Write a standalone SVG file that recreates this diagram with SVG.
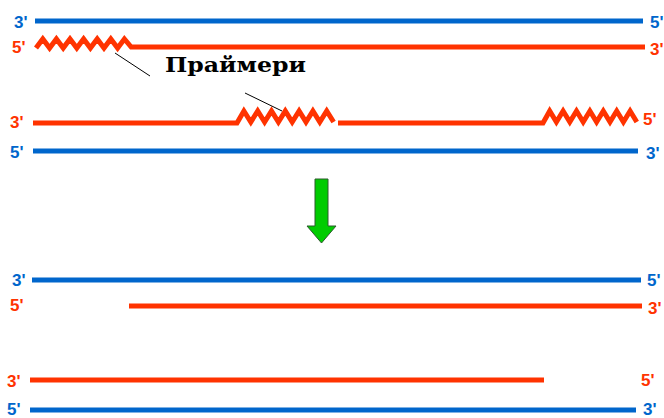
<svg xmlns="http://www.w3.org/2000/svg" width="664" height="418" viewBox="0 0 664 418">
<style>
.b{stroke:#0066cc;stroke-width:5;fill:none}
.r{stroke:#ff3300;stroke-width:5;fill:none;stroke-linejoin:miter}
.lb{font-family:"Liberation Sans",Arial,sans-serif;font-weight:bold;font-size:17px;fill:#0066cc}
.lr{font-family:"Liberation Sans",Arial,sans-serif;font-weight:bold;font-size:17px;fill:#ff3300}
.ptr{stroke:#000;stroke-width:1;fill:none}
</style>
<rect width="664" height="418" fill="#fff"/>
<g id="strand-top-blue">
<line class="b" x1="35" y1="21" x2="643" y2="21"/>
<text class="lb" x="14" y="28">3'</text>
<text class="lb" x="650" y="28">5'</text>
</g>
<g id="strand-top-red">
<path class="r" d="M36,48 L42.8,39 L49.6,48 L56.4,39 L63.2,48 L70,39 L76.8,48 L83.6,39 L90.4,48 L97.2,39 L104,48 L110.8,39 L117.6,48 L124.4,39 L131.2,47 H645"/>
<text class="lr" x="12" y="53">5'</text>
<text class="lr" x="650" y="55">3'</text>
</g>
<g id="label-primers">
<text x="165" y="72" font-family="'DejaVu Serif',serif" font-weight="bold" font-size="20" textLength="141" lengthAdjust="spacingAndGlyphs" fill="#000">Праймери</text>
</g>
<g id="strand-mid-red">
<path class="r" d="M33,123 H237 L243.9,111 L250.8,122 L257.7,111 L264.6,122 L271.5,111 L278.4,122 L285.3,111 L292.2,122 L299.1,111 L306,122 L312.9,111 L319.8,122 L326.7,111 L333.6,122"/>
<path class="r" d="M338,123 H543 L549.7,111 L556.4,122 L563.1,111 L569.8,122 L576.5,111 L583.2,122 L589.9,111 L596.6,122 L603.3,111 L610,122 L616.7,111 L623.4,122 L630.1,111 L636.8,122"/>
<text class="lr" x="10" y="128">3'</text>
<text class="lr" x="643" y="125">5'</text>
</g>
<g id="strand-mid-blue">
<line class="b" x1="33" y1="151" x2="638" y2="151"/>
<text class="lb" x="10" y="158">5'</text>
<text class="lb" x="646" y="159">3'</text>
</g>
<g id="connectors">
<line class="ptr" x1="115" y1="53" x2="150" y2="76"/>
<line class="ptr" x1="245" y1="93" x2="282" y2="111"/>
</g>
<g id="arrow">
<polygon points="315,179 328,179 328,226 336,226 321.5,243 307,226 315,226" fill="#00cc00" stroke="#2d5a2d" stroke-width="1"/>
</g>
<g id="result-top-blue">
<line class="b" x1="32" y1="280" x2="641" y2="280"/>
<text class="lb" x="12" y="286">3'</text>
<text class="lb" x="647" y="286">5'</text>
</g>
<g id="result-top-red">
<line class="r" x1="129" y1="306" x2="642" y2="306"/>
<text class="lr" x="10" y="311">5'</text>
<text class="lr" x="648" y="314">3'</text>
</g>
<g id="result-bottom-red">
<line class="r" x1="30" y1="380" x2="544" y2="380"/>
<text class="lr" x="7" y="387">3'</text>
<text class="lr" x="641" y="386">5'</text>
</g>
<g id="result-bottom-blue">
<line class="b" x1="30" y1="410" x2="636" y2="410"/>
<text class="lb" x="7" y="415">5'</text>
<text class="lb" x="643" y="415">3'</text>
</g>
</svg>
